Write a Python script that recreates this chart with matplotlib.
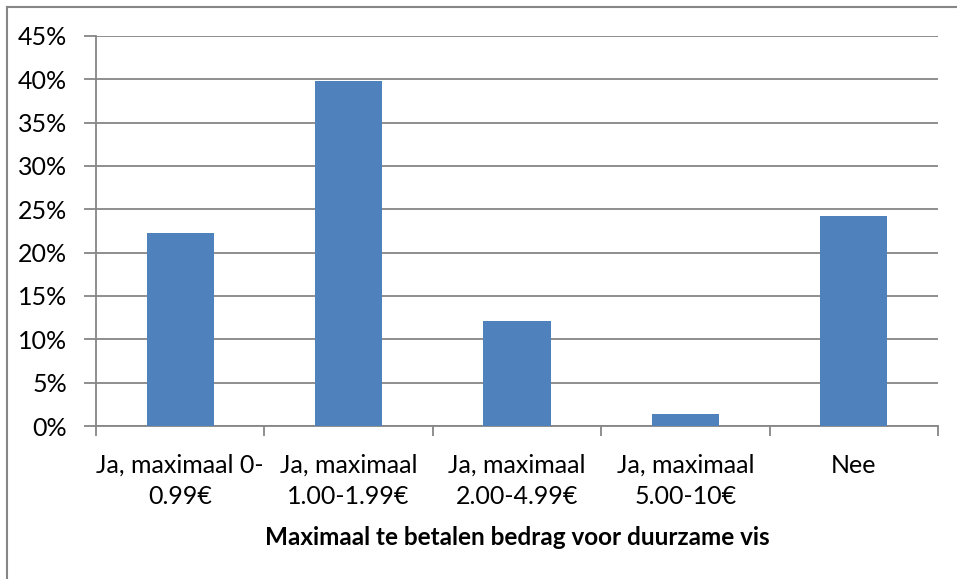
import matplotlib
matplotlib.use('Agg')
import matplotlib.pyplot as plt
from matplotlib.lines import Line2D
from matplotlib.ticker import FuncFormatter, FixedLocator

# categories and shares (%)
categories = ['Ja, maximaal 0-\n0.99€', 'Ja, maximaal\n1.00-1.99€',
              'Ja, maximaal\n2.00-4.99€', 'Ja, maximaal\n5.00-10€', 'Nee']
shares = [22.3, 39.8, 12.1, 1.4, 24.2]
y_ticks = [0, 5, 10, 15, 20, 25, 30, 35, 40, 45]
x_title = 'Maximaal te betalen bedrag voor duurzame vis'

plt.rcParams['font.family'] = ['Lato', 'DejaVu Sans']
grid_col = '#868686'

fig = plt.figure(figsize=(9.57, 5.79), dpi=100)
ax = fig.add_axes([96 / 957, 1 - 426 / 579, 842 / 957, 390 / 579])

x = range(len(categories))
ax.bar(x, shares, width=0.4, color='#4F81BD', zorder=3)

ax.set_xlim(-0.5, len(categories) - 0.5)
ax.set_ylim(0, 45)
ax.yaxis.set_major_locator(FixedLocator(y_ticks))
ax.yaxis.set_major_formatter(FuncFormatter(lambda v, p: f'{v:.0f}%'))
ax.grid(axis='y', color=grid_col, linewidth=1.3, zorder=0)

# category labels centred, ticks at boundaries
ax.set_xticks([i - 0.5 for i in range(len(categories) + 1)])
ax.set_xticklabels([])
ax.set_xticks(list(x), minor=True)
ax.set_xticklabels(categories, minor=True, fontsize=18, linespacing=1.45)
ax.tick_params(axis='x', which='minor', length=0, pad=20)
ax.tick_params(axis='x', which='major', length=7, color=grid_col, width=1.3)
ax.tick_params(axis='y', length=9, color=grid_col, width=1.3, labelsize=18, pad=12)

for side in ['top', 'right']:
    ax.spines[side].set_visible(False)
for side in ['left', 'bottom']:
    ax.spines[side].set_color(grid_col)
    ax.spines[side].set_linewidth(1.3)

ax.set_xlabel(x_title, fontsize=17.5, fontweight='bold', labelpad=13)

# chart area border (left and top edge visible)
fig.add_artist(Line2D([7 / 957, 7 / 957], [0, 1 - 7 / 579], color=grid_col, lw=1.5))
fig.add_artist(Line2D([7 / 957, 1], [1 - 7 / 579, 1 - 7 / 579], color=grid_col, lw=1.5))

plt.savefig('out.png', dpi=100)
plt.close()
